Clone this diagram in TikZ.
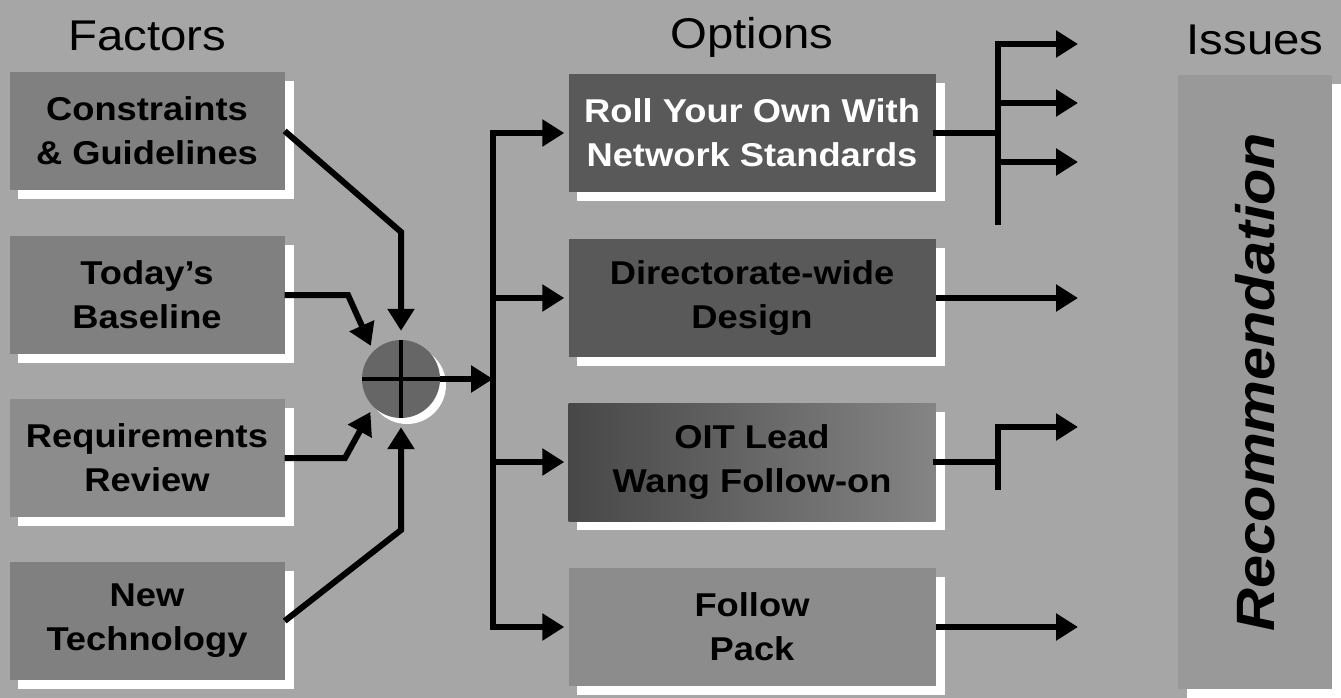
\documentclass[tikz,border=0pt]{standalone}
\usepackage{fontspec}
\setmainfont{Liberation Sans}[FakeStretch=1.1]
\usepackage{xcolor}
\usepackage{tikz}
\usetikzlibrary{arrows.meta,positioning,shapes,backgrounds}

\begin{document}
\begin{tikzpicture}[
    x=1pt, y=-1pt,
    every node/.style={font=\fontsize{33}{44}\selectfont\bfseries},
    colhead/.style={font=\fontsize{43}{48}\selectfont},
    factor/.style={rectangle, fill=black!50, minimum width=275pt,
                   minimum height=118pt, inner sep=0pt, align=center},
    option/.style={rectangle, fill=black!55, minimum width=367pt,
                   minimum height=118pt, inner sep=0pt, align=center},
    sumnode/.style={circle, fill=black!60, minimum size=78pt, inner sep=0pt,
                    path picture={
                      \draw[line width=4pt]
                        (path picture bounding box.north) -- (path picture bounding box.south)
                        (path picture bounding box.west) -- (path picture bounding box.east);}},
    flow/.style={-{Triangle[length=22pt,width=26pt]}, line width=6pt},
    wire/.style={line width=6pt, line cap=rect},
]

\useasboundingbox (0,0) rectangle (1341,698);

% -------- LEFT: Factors --------
\node[colhead] (hfac) at (147,36) {Factors};

\node[factor] (f1) at (147,131) {Constraints\\\& Guidelines};
\node[factor] (f2) at (147,295) {Today’s\\Baseline};
\node[factor, fill=black!45] (f3) at (147,458) {Requirements\\Review};
\node[factor] (f4) at (147,621) {New\\Technology};

% summing junction
\node[sumnode] (sum) at (401,379) {};

\coordinate (k1) at (401,232);
\coordinate (k2) at (348,295);
\coordinate (k3) at (345,458);
\coordinate (k4) at (401,530);

\draw[flow, shorten >=9pt] (f1.east) -- (k1) -- (sum.north);
\draw[flow, shorten >=6pt] (f2.east) -- (k2) -- (sum.north west);
\draw[flow, shorten >=6pt] (f3.east) -- (k3) -- (sum.south west);
\draw[flow, shorten >=9pt] (f4.east) -- (k4) -- (sum.south);

% -------- MIDDLE: Options --------
\node[colhead] (hopt) at (752,37) {Options};

\node[option, fill=black!65, text=white] (oA) at (752,133) {Roll Your Own With\\Network Standards};
\node[option, fill=black!65] (oB) at (752,298) {Directorate-wide\\Design};
\node[option, left color=black!72, right color=black!48] (oC) at (752,462) {OIT Lead\\Wang Follow-on};
\node[option, fill=black!45] (oD) at (752,627) {Follow\\Pack};

% distribution bus
\coordinate (bt) at (493,133);
\coordinate (bb) at (493,627);
\draw[wire] (bt) -- (bb);
\draw[flow] (sum.east) -- (sum.east -| bt);
\foreach \o in {oA,oB,oC,oD}
  \draw[flow, shorten >=4pt] (bt |- \o.west) -- (\o.west);

% -------- RIGHT: Issues --------
\node[colhead] (hiss) at (1255,40) {Issues};

\node[rectangle, fill=black!40, minimum width=613pt, minimum height=154pt,
      rotate=90, font=\fontsize{54}{58}\selectfont\bfseries\itshape]
      (rec) at (1255,382) {Recommendation};

\coordinate (rt) at (998,44);
\coordinate (rb) at (998,222);
\coordinate (iA1) at (1078,44);
\coordinate (iA2) at (1078,103);
\coordinate (iA3) at (1078,162);
\coordinate (iB) at (1078,298);
\coordinate (cC) at (998,490);
\coordinate (iC) at (1078,427);
\coordinate (iD) at (1078,627);

\draw[wire] (rt) -- (rb);
\draw[wire] (oA.east) -- (oA.east -| rt);
\foreach \i in {iA1,iA2,iA3}
  \draw[flow] (\i -| rt) -- (\i);

\draw[flow] (oB.east) -- (iB);

\draw[wire] (oC.east) -- (oC.east -| cC);
\draw[flow] (cC) -- (cC |- iC) -- (iC);

\draw[flow] (oD.east) -- (iD);

% -------- shadows and backdrop --------
\begin{scope}[on background layer]
  \fill[black!35] (0,0) rectangle (1341,698);
  \foreach \b in {f1,f2,f3,f4,oA,oB,oC,oD,rec}
    \fill[white] ([shift={(9,9)}]\b.north west) rectangle ([shift={(9,9)}]\b.south east);
  \fill[white] ([shift={(6,6)}]sum.center) circle (39);
\end{scope}

\end{tikzpicture}
\end{document}
